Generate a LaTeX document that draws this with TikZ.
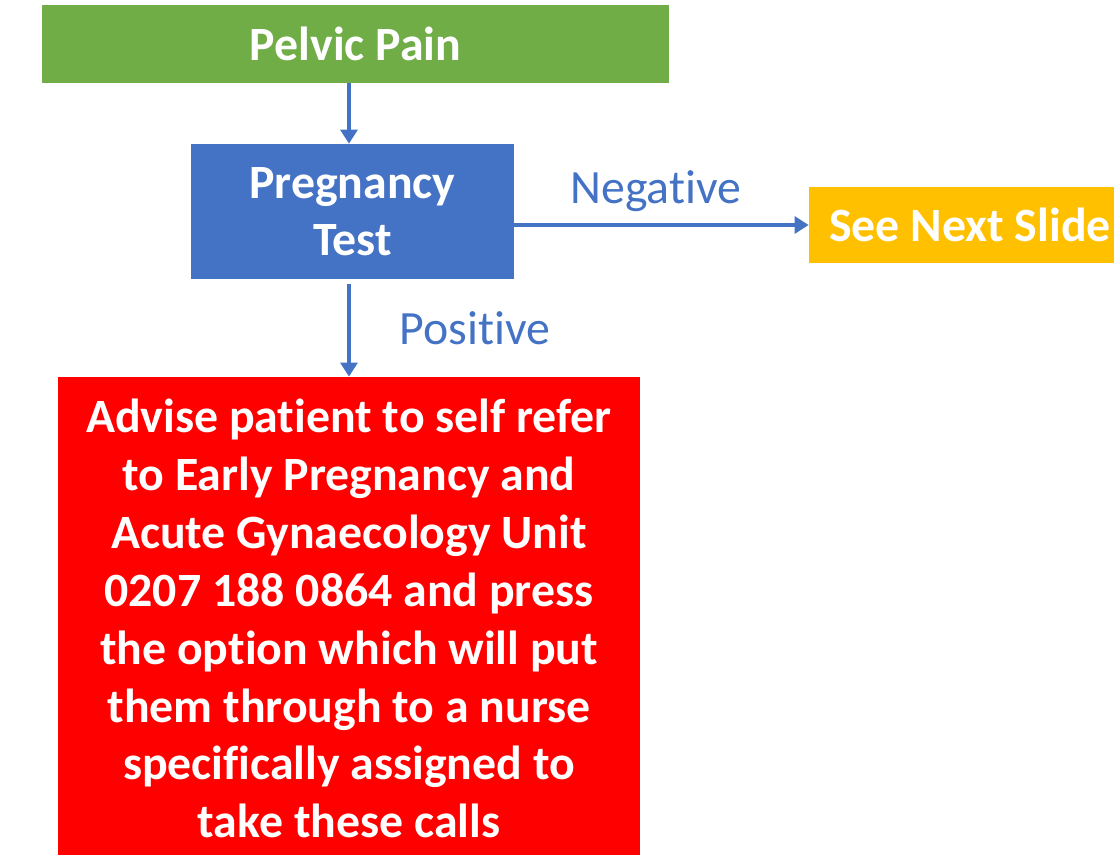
\documentclass[tikz,border=0pt]{standalone}
\usepackage{fontspec}
\setmainfont[Ligatures=NoCommon]{Carlito}
\usetikzlibrary{arrows.meta,positioning}
\definecolor{painbox}{HTML}{70AD47}
\definecolor{testbox}{HTML}{4472C4}
\definecolor{nextbox}{HTML}{FFC000}
\definecolor{referbox}{HTML}{FF0000}

\begin{document}
\begin{tikzpicture}[x=0.025cm, y=-0.025cm,
    flowbox/.style={rectangle, inner sep=0pt, text=white, align=center,
        font=\fontsize{34}{41}\selectfont\bfseries},
    flowarrow/.style={-{Triangle[length=10pt,width=12pt]}, line width=2.8pt, testbox},
    branchlabel/.style={testbox, font=\fontsize{34}{41}\selectfont}]
            \useasboundingbox (0,0) rectangle (1114,855);

            % Boxes
            \node[flowbox, fill=painbox, minimum width=15.675cm, minimum height=1.95cm]
                (pain) at (355.5,44) {Pelvic Pain};
            \node[flowbox, fill=testbox, minimum width=8.075cm, minimum height=3.375cm]
                (test) at (352.5,211.5) {Pregnancy\\Test};
            \node[flowbox, fill=nextbox, minimum width=8.05cm, minimum height=1.9cm]
                (next) at (970,225) {See Next Slide};
            \node[flowbox, fill=referbox, minimum width=14.55cm, minimum height=12.075cm,
                font=\fontsize{34}{41.2}\selectfont\bfseries]
                (refer) at (349,618.5) {Advise patient to self refer\\
                to Early Pregnancy and\\
                Acute Gynaecology Unit\\
                0207 188 0864 and press\\
                the option which will put\\
                them through to a nurse\\
                specifically assigned to\\
                take these calls};

            % Arrows
            \draw[flowarrow] ([xshift=-2.5pt]test.north |- pain.south) -- ([xshift=-2.5pt]test.north);
            \draw[flowarrow] (test.east |- next.west) -- (next.west)
                node[branchlabel, midway, above=5pt, xshift=-4pt] {Negative};
            \draw[flowarrow, shorten <=3pt] ([xshift=-2.5pt]test.south) -- ([xshift=-2.5pt]test.south |- refer.north)
                node[branchlabel, midway, right=1.1cm] {Positive};
        \end{tikzpicture}
\end{document}
